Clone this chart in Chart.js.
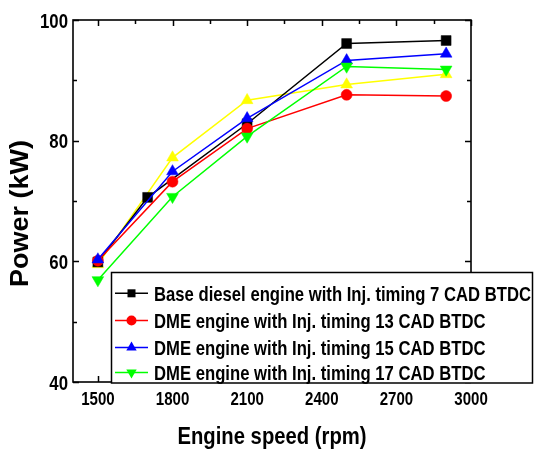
<!DOCTYPE html>
<html><head><meta charset="utf-8">
<script src="https://cdn.jsdelivr.net/npm/chart.js@4.4.0/dist/chart.umd.min.js"></script>
<style>html,body{margin:0;padding:0;background:#fff;}#wrap{width:534px;height:450px;}</style>
</head><body><div id="wrap"><canvas id="c" width="534" height="450"></canvas></div>
<script>
// ---- data ----
const speedBase = [1500, 1700, 2100, 2500, 2900];
const speedDME = [1500, 1800, 2100, 2500, 2900];
const powerBase7 = [59.9, 70.6, 82.8, 96.1, 96.6];
const powerDME13 = [60.1, 73.2, 82.0, 87.6, 87.4];
const powerDME15 = [60.3, 74.9, 83.7, 93.3, 94.4];
const powerDME17 = [56.9, 70.7, 80.7, 92.3, 91.8];
const powerExtra = [59.5, 77.2, 86.7, 89.3, 91.0];
const xTickValues = [1500, 1800, 2100, 2400, 2700, 3000];
const yTickValues = [40, 60, 80, 100];
const legendLabels = [
  'Base diesel engine with Inj. timing 7 CAD BTDC',
  'DME engine with Inj. timing 13 CAD BTDC',
  'DME engine with Inj. timing 15 CAD BTDC',
  'DME engine with Inj. timing 17 CAD BTDC'
];
const xTitle = 'Engine speed (rpm)';
const yTitle = 'Power (kW)';

function pts(xs, ys) { return xs.map((x, i) => ({ x: x, y: ys[i] })); }

const FONT = '"Liberation Sans", Arial, sans-serif';

const styles = [
  { color: '#000000', shape: 'rect', radius: 7, rot: 0, order: 4 },
  { color: '#FF0000', shape: 'circle', radius: 5.5, rot: 0, order: 3 },
  { color: '#0000FF', shape: 'triangle', radius: 6.8, rot: 0, order: 2 },
  { color: '#00FF00', shape: 'triangle', radius: 6.8, rot: 180, order: 1 },
  { color: '#FFFF00', shape: 'triangle', radius: 6.8, rot: 0, order: 5 }
];
const seriesData = [
  pts(speedBase, powerBase7),
  pts(speedDME, powerDME13),
  pts(speedDME, powerDME15),
  pts(speedDME, powerDME17),
  pts(speedDME, powerExtra)
];
const seriesLabels = legendLabels.concat(['']);

const datasets = seriesData.map((d, i) => ({
  label: seriesLabels[i],
  data: d,
  borderColor: styles[i].color,
  backgroundColor: styles[i].color,
  pointBackgroundColor: styles[i].color,
  pointBorderColor: styles[i].color,
  pointBorderWidth: 0.5,
  borderWidth: 1.5,
  pointStyle: styles[i].shape,
  pointRotation: styles[i].rot,
  pointRadius: styles[i].radius,
  tension: 0,
  order: styles[i].order
}));

function sText(ctx, text, x, y, font, align, sx) {
  ctx.save();
  ctx.font = font;
  ctx.translate(x, y);
  ctx.scale(sx, 1);
  ctx.textAlign = align;
  ctx.textBaseline = 'alphabetic';
  ctx.fillStyle = '#000';
  ctx.fillText(text, 0, 0);
  ctx.restore();
}
function fitScale(ctx, text, font, target) {
  ctx.save(); ctx.font = font; const w = ctx.measureText(text).width; ctx.restore();
  return target / w;
}
function marker(ctx, st, x, y, r) {
  ctx.save();
  ctx.fillStyle = st.color;
  ctx.beginPath();
  if (st.shape === 'rect') {
    ctx.rect(x - r, y - r, 2 * r, 2 * r);
  } else if (st.shape === 'circle') {
    ctx.arc(x, y, r, 0, Math.PI * 2);
  } else {
    const s = st.rot ? -1 : 1;
    ctx.moveTo(x, y - s * r);
    ctx.lineTo(x + r * 0.866, y + s * r * 0.5);
    ctx.lineTo(x - r * 0.866, y + s * r * 0.5);
    ctx.closePath();
  }
  ctx.fill();
  ctx.restore();
}

const decor = {
  id: 'decor',
  afterDraw(chart) {
    const ctx = chart.ctx;
    const a = chart.chartArea;
    const xs = chart.scales.x, ys = chart.scales.y;
    ctx.save();
    ctx.strokeStyle = '#000';
    ctx.lineWidth = 1.5;
    ctx.beginPath();
    for (let v = 1500; v <= 3000; v += 150) {
      const px = Math.round(xs.getPixelForValue(v)) + 0.5;
      const len = ((v - 1500) % 300 === 0) ? 6 : 4;
      ctx.moveTo(px, a.bottom); ctx.lineTo(px, a.bottom - len);
      ctx.moveTo(px, a.top); ctx.lineTo(px, a.top + len);
    }
    for (let v = 40; v <= 100; v += 10) {
      const py = Math.round(ys.getPixelForValue(v)) + 0.5;
      const len = (v % 20 === 0) ? 6 : 4;
      ctx.moveTo(a.left, py); ctx.lineTo(a.left + len, py);
      ctx.moveTo(a.right, py); ctx.lineTo(a.right - len, py);
    }
    ctx.stroke();
    ctx.lineWidth = 1.6;
    ctx.strokeRect(a.left, a.top, a.right - a.left, a.bottom - a.top);
    ctx.restore();

    const yFont = 'bold 21px ' + FONT;
    const ysx = fitScale(ctx, '100', yFont, 28);
    yTickValues.forEach(v => {
      const py = ys.getPixelForValue(v);
      sText(ctx, String(v), a.left - 5, py + 7.5, yFont, 'right', ysx);
    });
    const xFont = 'bold 19px ' + FONT;
    const xsx = fitScale(ctx, '1500', xFont, 33.5);
    xTickValues.forEach(v => {
      const px = xs.getPixelForValue(v);
      sText(ctx, String(v), px, 405, xFont, 'center', xsx);
    });
    const xtFont = 'bold 24px ' + FONT;
    sText(ctx, xTitle, 272, 444, xtFont, 'center', fitScale(ctx, xTitle, xtFont, 189));
    const ytFont = 'bold 25px ' + FONT;
    ctx.save();
    ctx.translate(28, 213.5);
    ctx.rotate(-Math.PI / 2);
    sText(ctx, yTitle, 0, 0, ytFont, 'center', fitScale(ctx, yTitle, ytFont, 147));
    ctx.restore();

    const bx = 111.5, by = 272.5, bw = 421, bh = 110.5;
    ctx.save();
    ctx.fillStyle = '#fff';
    ctx.fillRect(bx, by, bw, bh);
    ctx.strokeStyle = '#000';
    ctx.lineWidth = 1.5;
    ctx.strokeRect(bx, by, bw, bh);
    ctx.restore();
    const lFont = 'bold 21px ' + FONT;
    const lsx = fitScale(ctx, legendLabels[0], lFont, 377);
    const rows = [293.3, 320.5, 347.5, 372.5];
    const mr = [4, 5, 6, 6];
    legendLabels.forEach((t, i) => {
      const cy = rows[i];
      ctx.save();
      ctx.strokeStyle = styles[i].color;
      ctx.lineWidth = 1.5;
      ctx.beginPath(); ctx.moveTo(115, cy); ctx.lineTo(148, cy); ctx.stroke();
      ctx.restore();
      marker(ctx, styles[i], 131.5, cy, mr[i]);
      sText(ctx, t, 154, cy + 7.5, lFont, 'left', lsx);
    });
  }
};

new Chart(document.getElementById('c'), {
  type: 'line',
  data: { datasets: datasets },
  options: {
    responsive: false,
    animation: false,
    devicePixelRatio: 1,
    layout: { padding: { top: 20, right: 63, left: 0, bottom: 0 } },
    plugins: { legend: { display: false }, tooltip: { enabled: false } },
    scales: {
      x: {
        type: 'linear', min: 1400, max: 3000,
        ticks: { display: false }, grid: { display: false, drawTicks: false }, border: { display: false },
        afterFit: s => { s.height = 68; }
      },
      y: {
        type: 'linear', min: 40, max: 100,
        ticks: { display: false }, grid: { display: false, drawTicks: false }, border: { display: false },
        afterFit: s => { s.width = 73; }
      }
    }
  },
  plugins: [decor]
});
</script>
</body></html>
